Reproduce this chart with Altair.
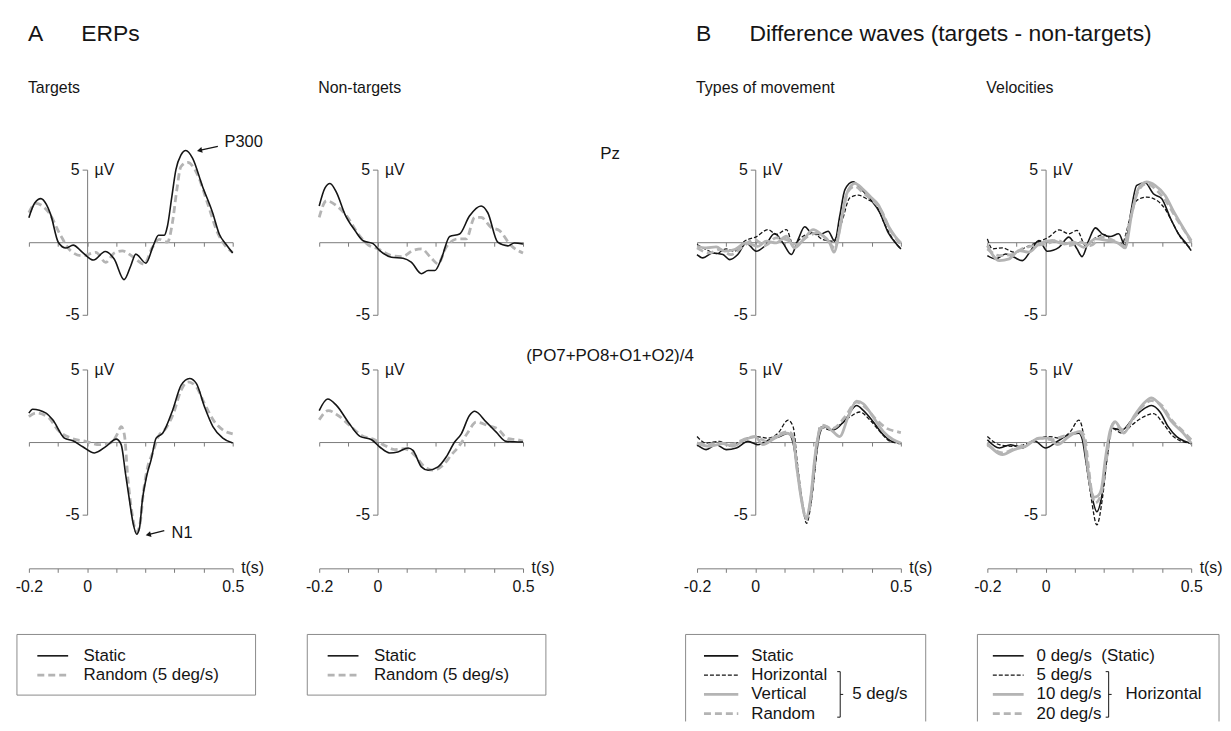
import altair as alt
import pandas as pd

FONT = "Liberation Sans"
BLACK = "#151515"
GRAY = "#b4b4b4"
AXC = "#7a7a7a"
TXT = "#151515"

# ------------------------------------------------------------------ data
# A. ERPs -- Pz
ERP_TGT_PZ_STATIC_T = [-0.2, -0.18, -0.159, -0.14, -0.125, -0.099, -0.073, -0.048, -0.016, 0.022, 0.062, 0.093, 0.127, 0.15, 0.167, 0.202, 0.227, 0.245, 0.265, 0.276, 0.29, 0.305, 0.322, 0.339, 0.362, 0.396, 0.431, 0.454, 0.477, 0.5]
ERP_TGT_PZ_STATIC_V = [1.69, 2.7, 3.0, 2.6, 1.9, 0.0, -0.4, -0.2, -0.7, -1.23, -0.64, -1.16, -2.58, -1.62, -0.82, -1.44, -0.25, 0.48, 0.48, 1.12, 3.0, 5.0, 6.0, 6.32, 5.8, 3.86, 2.03, 0.55, -0.14, -0.75]
ERP_TGT_PZ_RANDOM_T = [-0.2, -0.176, -0.131, -0.09, -0.056, -0.016, 0.03, 0.064, 0.093, 0.121, 0.156, 0.196, 0.224, 0.247, 0.276, 0.293, 0.308, 0.322, 0.345, 0.379, 0.413, 0.448, 0.477, 0.5]
ERP_TGT_PZ_RANDOM_V = [2.03, 2.67, 2.03, 0.43, -0.6, -0.94, -0.7, -1.39, -0.75, -0.6, -0.98, -1.51, -0.37, 0.2, 0.0, 1.35, 3.6, 5.2, 5.5, 4.66, 2.72, 0.66, -0.3, -0.7]
ERP_NT_PZ_STATIC_T = [-0.2, -0.18, -0.163, -0.14, -0.112, -0.077, -0.049, -0.015, 0.008, 0.048, 0.088, 0.116, 0.151, 0.174, 0.197, 0.219, 0.248, 0.282, 0.316, 0.356, 0.379, 0.413, 0.448, 0.47, 0.5]
ERP_NT_PZ_STATIC_V = [2.5, 3.75, 4.05, 3.4, 1.94, 0.8, 0.1, -0.1, -0.58, -1.03, -1.1, -1.37, -2.17, -1.95, -1.95, -1.16, 0.4, 0.56, 1.8, 2.5, 2.03, 0.0, -0.25, -0.05, -0.12]
ERP_NT_PZ_RANDOM_T = [-0.2, -0.175, -0.14, -0.106, -0.066, -0.032, 0.002, 0.048, 0.085, 0.122, 0.151, 0.185, 0.208, 0.236, 0.276, 0.305, 0.334, 0.356, 0.39, 0.419, 0.459, 0.5]
ERP_NT_PZ_RANDOM_V = [1.71, 2.85, 2.5, 1.82, 0.57, -0.18, -0.46, -0.92, -0.99, -0.57, -0.46, -1.1, -1.49, -0.34, 0.23, 0.23, 1.71, 1.71, 1.03, 0.8, -0.23, -0.75]

# A. ERPs -- (PO7+PO8+O1+O2)/4
ERP_TGT_OCC_STATIC_T = [-0.2, -0.187, -0.141, -0.118, -0.078, -0.049, -0.015, 0.025, 0.065, 0.1, 0.117, 0.132, 0.145, 0.158, 0.17, 0.18, 0.19, 0.205, 0.22, 0.237, 0.26, 0.294, 0.323, 0.352, 0.375, 0.403, 0.432, 0.466, 0.5]
ERP_TGT_OCC_STATIC_V = [1.99, 2.26, 1.99, 1.53, 0.27, 0.09, -0.32, -0.75, -0.3, 0.2, -0.18, -2.2, -3.95, -5.6, -6.35, -5.9, -3.95, -2.3, -1.21, 0.27, 0.62, 2.21, 3.92, 4.38, 4.04, 2.44, 1.07, 0.27, -0.07]
ERP_TGT_OCC_RANDOM_T = [-0.2, -0.175, -0.13, -0.101, -0.055, -0.003, 0.042, 0.082, 0.105, 0.117, 0.128, 0.14, 0.155, 0.17, 0.182, 0.193, 0.207, 0.225, 0.245, 0.271, 0.295, 0.323, 0.346, 0.375, 0.403, 0.437, 0.466, 0.5]
ERP_TGT_OCC_RANDOM_V = [1.75, 2.0, 1.64, 0.84, 0.27, 0.04, -0.18, -0.05, 0.6, 1.07, 0.5, -2.5, -5.0, -6.2, -5.6, -3.5, -1.8, -0.75, 0.4, 0.96, 1.9, 3.58, 4.15, 3.8, 2.65, 1.41, 0.84, 0.57]
ERP_NT_OCC_STATIC_T = [-0.2, -0.171, -0.14, -0.1, -0.06, -0.02, 0.008, 0.042, 0.07, 0.105, 0.122, 0.151, 0.174, 0.208, 0.236, 0.265, 0.288, 0.316, 0.334, 0.374, 0.408, 0.442, 0.47, 0.5]
ERP_NT_OCC_STATIC_V = [2.17, 2.97, 2.51, 1.37, 0.39, 0.16, -0.34, -0.75, -0.68, -0.41, -0.57, -1.71, -1.94, -1.71, -1.03, 0.0, 0.57, 1.83, 2.12, 1.37, 0.68, 0.05, 0.02, 0.0]
ERP_NT_OCC_RANDOM_T = [-0.2, -0.169, -0.135, -0.095, -0.055, -0.01, 0.025, 0.06, 0.093, 0.128, 0.162, 0.191, 0.225, 0.253, 0.282, 0.311, 0.339, 0.379, 0.413, 0.448, 0.48, 0.5]
ERP_NT_OCC_RANDOM_V = [1.53, 2.17, 1.83, 1.14, 0.46, 0.16, -0.23, -0.52, -0.46, -0.91, -1.71, -1.94, -1.6, -0.91, -0.23, 0.68, 1.37, 1.14, 0.91, 0.23, 0.16, 0.07]

# B. Difference waves -- types of movement, Pz
DW_TYPE_PZ_STATIC_T = [-0.2, -0.18, -0.146, -0.111, -0.088, -0.06, -0.031, 0.003, 0.032, 0.067, 0.095, 0.124, 0.147, 0.17, 0.193, 0.222, 0.25, 0.273, 0.29, 0.308, 0.336, 0.365, 0.394, 0.428, 0.457, 0.486, 0.5]
DW_TYPE_PZ_STATIC_V = [-0.85, -1.08, -0.74, -0.85, -1.2, -0.85, -0.05, -0.62, -0.28, 0.6, -0.05, -0.85, 0.18, 1.06, 0.64, 0.53, 0.76, 0.07, 1.79, 3.63, 4.16, 3.63, 2.99, 2.02, 0.64, -0.16, -0.46]
DW_TYPE_PZ_HOR_T = [-0.2, -0.169, -0.134, -0.1, -0.071, -0.037, 0.003, 0.044, 0.072, 0.107, 0.13, 0.164, 0.199, 0.233, 0.267, 0.296, 0.325, 0.354, 0.382, 0.417, 0.445, 0.474, 0.5]
DW_TYPE_PZ_HOR_V = [-0.16, -0.5, -0.78, -0.46, -0.62, 0.07, 0.37, 0.87, 0.53, 0.87, -0.16, 0.41, 0.6, 0.18, 0.07, 1.33, 3.06, 3.24, 2.99, 2.48, 1.22, 0.18, -0.46]
DW_TYPE_PZ_VER_T = [-0.2, -0.169, -0.134, -0.106, -0.071, -0.031, 0.009, 0.038, 0.072, 0.107, 0.135, 0.17, 0.199, 0.227, 0.256, 0.27, 0.29, 0.313, 0.342, 0.371, 0.399, 0.422, 0.451, 0.48, 0.5]
DW_TYPE_PZ_VER_V = [-0.28, -0.39, -0.32, -0.62, -0.5, -0.05, -0.28, 0.07, -0.05, 0.41, -0.39, 0.3, 0.87, 0.53, -0.05, -0.69, 0.87, 3.29, 4.05, 3.63, 3.06, 2.6, 1.33, 0.41, -0.05]
DW_TYPE_PZ_RND_T = [-0.2, -0.157, -0.123, -0.083, -0.042, -0.002, 0.032, 0.072, 0.107, 0.141, 0.181, 0.216, 0.25, 0.273, 0.296, 0.319, 0.342, 0.371, 0.405, 0.434, 0.463, 0.5]
DW_TYPE_PZ_RND_V = [-0.39, -0.74, -0.5, -0.85, -0.28, 0.18, -0.23, 0.3, 0.18, -0.16, 0.41, 0.64, 0.07, -0.39, 1.56, 3.52, 3.86, 3.4, 2.83, 2.14, 0.87, -0.16]

# B. Difference waves -- velocities, Pz
DW_VEL_PZ_0_T = [-0.2, -0.171, -0.137, -0.108, -0.08, -0.051, -0.023, 0.006, 0.046, 0.08, 0.108, 0.125, 0.148, 0.171, 0.194, 0.222, 0.251, 0.273, 0.29, 0.313, 0.342, 0.37, 0.399, 0.427, 0.456, 0.484, 0.5]
DW_VEL_PZ_0_V = [-0.92, -1.15, -0.81, -1.04, -1.27, -0.58, 0.12, -0.62, -0.35, 0.35, -0.46, -0.99, 0.12, 0.99, 0.58, 0.39, 0.58, -0.23, 1.73, 3.92, 4.1, 3.34, 3.0, 1.73, 0.58, -0.12, -0.58]
DW_VEL_PZ_5_T = [-0.2, -0.182, -0.148, -0.108, -0.068, -0.028, 0.011, 0.046, 0.08, 0.108, 0.137, 0.171, 0.2, 0.228, 0.262, 0.285, 0.313, 0.347, 0.382, 0.41, 0.438, 0.467, 0.5]
DW_VEL_PZ_5_V = [0.23, -0.46, -0.39, -0.69, -0.35, 0.0, 0.35, 0.85, 0.58, 0.81, -0.23, 0.3, 0.53, 0.12, -0.12, 1.27, 2.88, 3.11, 2.88, 2.3, 1.27, 0.23, -0.45]
DW_VEL_PZ_10_T = [-0.2, -0.159, -0.125, -0.091, -0.057, -0.023, 0.023, 0.063, 0.097, 0.131, 0.171, 0.211, 0.251, 0.273, 0.296, 0.319, 0.347, 0.376, 0.41, 0.444, 0.478, 0.5]
DW_VEL_PZ_10_V = [-0.23, -1.27, -1.15, -0.58, -0.69, -0.12, 0.12, -0.12, 0.0, -0.35, 0.23, 0.12, -0.07, -0.39, 1.96, 3.69, 4.15, 3.92, 3.23, 1.96, 0.81, 0.12]
DW_VEL_PZ_20_T = [-0.2, -0.159, -0.114, -0.08, -0.04, 0.0, 0.04, 0.08, 0.12, 0.154, 0.194, 0.233, 0.268, 0.29, 0.319, 0.347, 0.382, 0.416, 0.45, 0.484, 0.5]
DW_VEL_PZ_20_V = [-0.46, -0.92, -0.85, -0.46, -0.23, -0.12, 0.12, -0.23, 0.0, -0.23, 0.35, 0.12, -0.23, 1.5, 3.57, 4.03, 3.57, 2.76, 1.61, 0.58, 0.0]

# B. Difference waves -- types of movement, occipital
DW_TYPE_OCC_STATIC_T = [-0.2, -0.169, -0.134, -0.1, -0.065, -0.025, 0.009, 0.049, 0.084, 0.113, 0.13, 0.145, 0.158, 0.175, 0.193, 0.207, 0.222, 0.235, 0.267, 0.308, 0.348, 0.371, 0.405, 0.44, 0.468, 0.5]
DW_TYPE_OCC_STATIC_V = [-0.18, -0.52, -0.18, -0.52, -0.41, 0.05, -0.18, 0.16, 0.38, 0.61, -0.07, -2.0, -3.9, -5.3, -3.9, -1.3, 0.6, 1.06, 0.83, 1.51, 2.52, 2.18, 1.4, 0.5, 0.05, -0.07]
DW_TYPE_OCC_HOR_T = [-0.2, -0.169, -0.123, -0.088, -0.042, 0.003, 0.044, 0.078, 0.113, 0.13, 0.145, 0.16, 0.176, 0.193, 0.207, 0.222, 0.256, 0.29, 0.325, 0.359, 0.394, 0.428, 0.463, 0.5]
DW_TYPE_OCC_HOR_V = [0.38, -0.07, 0.05, -0.29, 0.16, 0.38, 0.27, 0.61, 1.51, 1.06, -1.5, -3.9, -5.6, -4.0, -1.5, 1.06, 0.83, 1.17, 1.73, 2.07, 1.51, 0.72, 0.05, -0.11]
DW_TYPE_OCC_VER_T = [-0.2, -0.157, -0.111, -0.077, -0.037, 0.0, 0.026, 0.067, 0.107, 0.13, 0.143, 0.158, 0.174, 0.19, 0.205, 0.222, 0.239, 0.267, 0.29, 0.319, 0.348, 0.371, 0.405, 0.44, 0.474, 0.5]
DW_TYPE_OCC_VER_V = [-0.07, -0.29, -0.11, -0.29, 0.16, 0.38, -0.18, 0.27, 0.61, 0.27, -1.8, -3.9, -5.2, -3.9, -1.0, 0.83, 1.1, 0.72, 0.38, 1.73, 2.82, 2.64, 1.73, 0.72, 0.16, -0.07]
DW_TYPE_OCC_RND_T = [-0.2, -0.163, -0.123, -0.083, -0.042, 0.0, 0.038, 0.078, 0.113, 0.13, 0.144, 0.159, 0.175, 0.191, 0.206, 0.227, 0.267, 0.308, 0.348, 0.377, 0.417, 0.451, 0.486, 0.5]
DW_TYPE_OCC_RND_V = [-0.07, -0.18, -0.07, -0.18, 0.16, 0.38, 0.05, 0.5, 0.72, 0.38, -1.8, -3.9, -5.3, -3.9, -1.0, 1.17, 0.95, 1.73, 2.75, 2.41, 1.51, 0.95, 0.72, 0.65]

# B. Difference waves -- velocities, occipital
DW_VEL_OCC_0_T = [-0.2, -0.159, -0.12, -0.08, -0.04, 0.0, 0.04, 0.08, 0.114, 0.125, 0.14, 0.158, 0.176, 0.194, 0.21, 0.228, 0.262, 0.296, 0.33, 0.364, 0.393, 0.421, 0.45, 0.478, 0.5]
DW_VEL_OCC_0_V = [0.16, -0.41, -0.18, -0.41, 0.11, -0.41, 0.05, 0.5, 0.61, 0.27, -1.5, -3.6, -4.8, -3.6, -1.2, 0.95, 0.83, 1.51, 2.18, 2.52, 2.07, 1.06, 0.38, 0.05, -0.11]
DW_VEL_OCC_5_T = [-0.2, -0.159, -0.114, -0.074, -0.034, 0.011, 0.051, 0.085, 0.114, 0.125, 0.14, 0.157, 0.176, 0.195, 0.21, 0.228, 0.262, 0.296, 0.336, 0.37, 0.404, 0.433, 0.467, 0.5]
DW_VEL_OCC_5_V = [0.38, -0.18, -0.29, -0.18, 0.16, 0.38, 0.27, 0.72, 1.51, 1.06, -1.5, -3.9, -5.7, -3.9, -1.3, 0.95, 0.61, 1.17, 1.73, 1.96, 1.28, 0.5, 0.05, -0.07]
DW_VEL_OCC_10_T = [-0.2, -0.148, -0.108, -0.068, -0.023, 0.011, 0.04, 0.08, 0.114, 0.131, 0.143, 0.155, 0.168, 0.18, 0.192, 0.205, 0.222, 0.239, 0.268, 0.302, 0.336, 0.364, 0.399, 0.433, 0.473, 0.5]
DW_VEL_OCC_10_V = [-0.07, -0.86, -0.52, -0.29, 0.27, 0.27, -0.18, 0.38, 0.72, 0.27, -1.5, -3.2, -3.8, -3.7, -3.2, -1.2, 0.8, 1.4, 0.61, 1.73, 2.64, 3.04, 2.41, 1.4, 0.61, -0.07]
DW_VEL_OCC_20_T = [-0.2, -0.148, -0.103, -0.057, -0.017, 0.023, 0.057, 0.097, 0.12, 0.134, 0.146, 0.158, 0.17, 0.182, 0.194, 0.207, 0.22, 0.233, 0.268, 0.302, 0.336, 0.364, 0.399, 0.433, 0.473, 0.5]
DW_VEL_OCC_20_V = [-0.18, -0.74, -0.41, -0.07, 0.27, 0.16, 0.38, 0.61, 0.72, 0.38, -1.5, -3.4, -4.2, -4.0, -3.3, -1.5, 0.3, 1.28, 0.83, 1.62, 2.52, 2.86, 2.52, 1.51, 0.72, 0.16]

# axes / labels
T_DOMAIN = [-0.2, 0.5]
T_TICKS = [-0.2, -0.1, 0.0, 0.1, 0.2, 0.3, 0.4, 0.5]
T_LABEL_VALUES = [-0.2, 0.0, 0.5]
T_LABEL_TEXT = ["-0.2", "0", "0.5"]
V_DOMAIN = [-5, 5]
V_TICKS = [-5, 5]
V_LABEL_TEXT = ["-5", "5"]

# annotations (time, µV)
P300_TEXT, P300_AT, P300_TAIL, P300_TIP = "P300", (0.472, 6.9), (0.449, 6.6), (0.386, 6.32)
N1_TEXT, N1_AT, N1_TAIL, N1_TIP = "N1", (0.29, -6.3), (0.265, -6.1), (0.21, -6.38)

# texts
GAP = "\u00a0" * 6
BIG_A = "A" + GAP + "ERPs"
BIG_B = "B" + GAP + "Difference waves (targets - non-targets)"
COL_TITLES = ["Targets", "Non-targets", "Types of movement", "Velocities"]
ROW_TITLES = ["Pz", "(PO7+PO8+O1+O2)/4"]
LEG_ERP = ["Static", "Random (5 deg/s)"]
LEG_TYPES = ["Static", "Horizontal", "Vertical", "Random"]
LEG_VEL = ["0 deg/s\u00a0\u00a0(Static)", "5 deg/s", "10 deg/s", "20 deg/s"]
GROUP_TYPES = "5 deg/s"
GROUP_VEL = "Horizontal"

# ------------------------------------------------------------------ styles
ST_BLACK = dict(color=BLACK, strokeWidth=1.6)
ST_BLACK_DASH = dict(color=BLACK, strokeWidth=1.3, strokeDash=[4, 2])
ST_GRAY = dict(color=GRAY, strokeWidth=2.8)
ST_GRAY_DASH = dict(color=GRAY, strokeWidth=2.8, strokeDash=[7, 4])

W, H = 205, 146
X0_OFF = W * (0 - T_DOMAIN[0]) / (T_DOMAIN[1] - T_DOMAIN[0])
TICK_FS = 16
LEG_FS = 17
SUB_FS = 16
BIG_FS = 23
ROW_FS = 17


def label_expr(values, labels):
    expr = "''"
    for val, lab in zip(values, labels):
        expr = f"abs(datum.value - ({val})) < 1e-6 ? '{lab}' : ({expr})"
    return expr


def x_enc(field="t"):
    return alt.X(f"{field}:Q",
                 scale=alt.Scale(domain=T_DOMAIN, nice=False, zero=False),
                 axis=alt.Axis(orient="bottom", offset=-H / 2, values=T_TICKS, labels=False,
                               title=None, tickSize=4, domainColor=AXC, tickColor=AXC,
                               domainWidth=1, tickWidth=1, grid=False))


def y_enc(field="v"):
    return alt.Y(f"{field}:Q",
                 scale=alt.Scale(domain=V_DOMAIN, nice=False, zero=False),
                 axis=alt.Axis(orient="left", offset=-X0_OFF, values=V_TICKS,
                               labelExpr=label_expr(V_TICKS, V_LABEL_TEXT),
                               labelFontSize=TICK_FS, labelPadding=3, tickSize=5,
                               domainColor=AXC, tickColor=AXC, grid=False,
                               title="µV", titleAngle=0, titleX=7, titleY=0,
                               titleAlign="left", titleBaseline="middle",
                               titleFontSize=TICK_FS, titleFontWeight="normal"))


def series(t, v):
    return pd.DataFrame({"t": t, "v": v})


def line_layer(t, v, style):
    return alt.Chart(series(t, v)).mark_line(interpolate="monotone", **style).encode(
        x=x_enc(), y=y_enc())


def annotation(text, at, tail, tip, angle):
    lay = []
    seg = pd.DataFrame({"t": [tail[0]], "v": [tail[1]], "t2": [tip[0]], "v2": [tip[1]]})
    lay.append(alt.Chart(seg).mark_rule(color=BLACK, strokeWidth=1.3).encode(
        x=x_enc(), y=y_enc(), x2="t2:Q", y2="v2:Q"))
    lay.append(alt.Chart(series([tip[0]], [tip[1]])).mark_point(
        shape="triangle-left", filled=True, size=36, angle=angle, color=BLACK, opacity=1).encode(
        x=x_enc(), y=y_enc()))
    lab = pd.DataFrame({"t": [at[0]], "v": [at[1]], "label": [text]})
    lay.append(alt.Chart(lab).mark_text(align="left", baseline="middle", fontSize=16.5,
                                        font=FONT, color=TXT).encode(
        x=x_enc(), y=y_enc(), text="label:N"))
    return lay


def panel(layers, title=None):
    ch = alt.layer(*layers).properties(width=W, height=H)
    if title is not None:
        ch = ch.properties(title=title)
    return ch


def col_title(big, sub, offset):
    return alt.TitleParams(text=big, subtitle=sub, anchor="start", frame="group", orient="top",
                           fontSize=BIG_FS, fontWeight="normal", font=FONT, color=TXT,
                           subtitleFontSize=SUB_FS, subtitleFont=FONT, subtitleColor=TXT,
                           subtitlePadding=34, offset=offset, dx=-1)


DUMMY = pd.DataFrame({"k": [0]})


def spacer(height, title=None, offset=0):
    ch = alt.Chart(DUMMY).mark_point(opacity=0).encode(
        x=alt.value(0), y=alt.value(0)).properties(width=1, height=height)
    if title is not None:
        ch = ch.properties(title=alt.TitleParams(text=title, anchor="middle", frame="group",
                                                 fontSize=ROW_FS, fontWeight="normal", font=FONT,
                                                 color=TXT, offset=offset))
    return ch


def t_axis():
    return alt.Chart(pd.DataFrame({"t": T_DOMAIN})).mark_point(opacity=0).encode(
        x=alt.X("t:Q", scale=alt.Scale(domain=T_DOMAIN, nice=False, zero=False),
                axis=alt.Axis(orient="bottom", offset=-11, values=T_TICKS,
                              labelExpr=label_expr(T_LABEL_VALUES, T_LABEL_TEXT),
                              labelFlush=False, labelOverlap=False, labelFontSize=TICK_FS,
                              labelPadding=6, tickSize=4, domainColor=AXC, tickColor=AXC,
                              grid=False, title="t(s)", titleX=W + 8, titleY=-1,
                              titleAlign="left", titleBaseline="middle",
                              titleFontSize=TICK_FS, titleFontWeight="normal")),
        y=alt.value(0)).properties(width=W, height=10)


LEG_FIRST = 22.0
LEG_STEP = 19.4


def legend(labels, styles, box, closed, sample_x, label_x, height, group=None):
    d0 = -LEG_FIRST / LEG_STEP
    d1 = d0 + height / LEG_STEP
    Y = alt.Y("row:Q", scale=alt.Scale(domain=[d0, d1], reverse=True, nice=False, zero=False),
              axis=None)
    lay = []
    bl, br = box
    edge = dict(color="#8a8a8a", strokeWidth=1)
    bottom = height - 0.5 if closed else height
    lay.append(alt.Chart(DUMMY).mark_rule(**edge).encode(
        x=alt.value(bl), x2=alt.value(br), y=alt.value(0.5)))
    lay.append(alt.Chart(DUMMY).mark_rule(**edge).encode(
        x=alt.value(bl), y=alt.value(0.5), y2=alt.value(bottom)))
    lay.append(alt.Chart(DUMMY).mark_rule(**edge).encode(
        x=alt.value(br), y=alt.value(0.5), y2=alt.value(bottom)))
    if closed:
        lay.append(alt.Chart(DUMMY).mark_rule(**edge).encode(
            x=alt.value(bl), x2=alt.value(br), y=alt.value(bottom)))
    for i, st in enumerate(styles):
        lay.append(alt.Chart(pd.DataFrame({"row": [i]})).mark_rule(**st).encode(
            x=alt.value(sample_x[0]), x2=alt.value(sample_x[1]), y=Y))
    lay.append(alt.Chart(pd.DataFrame({"row": list(range(len(labels))), "label": labels}))
               .mark_text(align="left", baseline="middle", fontSize=LEG_FS, font=FONT, color=TXT)
               .encode(x=alt.value(label_x), y=Y, text="label:N"))
    if group is not None:
        gtext, bx, gap = group
        first, last = 1, len(labels) - 1
        top_r, bot_r, mid_r = first - 0.18, last + 0.18, (first + last) / 2
        thin = dict(color=BLACK, strokeWidth=1)
        lay.append(alt.Chart(pd.DataFrame({"row": [top_r], "row2": [bot_r]})).mark_rule(**thin)
                   .encode(x=alt.value(bx), y=Y, y2="row2:Q"))
        lay.append(alt.Chart(pd.DataFrame({"row": [top_r, bot_r]})).mark_rule(**thin)
                   .encode(x=alt.value(bx - 3), x2=alt.value(bx), y=Y))
        lay.append(alt.Chart(pd.DataFrame({"row": [mid_r]})).mark_rule(**thin)
                   .encode(x=alt.value(bx), x2=alt.value(bx + 3), y=Y))
        lay.append(alt.Chart(pd.DataFrame({"row": [mid_r], "label": [gtext]}))
                   .mark_text(align="left", baseline="middle", fontSize=LEG_FS, font=FONT, color=TXT)
                   .encode(x=alt.value(bx + gap), y=Y, text="label:N"))
    return alt.layer(*lay).properties(width=W, height=height)


# ------------------------------------------------------------------ panels
p1 = panel([line_layer(ERP_TGT_PZ_RANDOM_T, ERP_TGT_PZ_RANDOM_V, ST_GRAY_DASH),
            line_layer(ERP_TGT_PZ_STATIC_T, ERP_TGT_PZ_STATIC_V, ST_BLACK)]
           + annotation(P300_TEXT, P300_AT, P300_TAIL, P300_TIP, 347.5),
           col_title(BIG_A, COL_TITLES[0], 38.3))
p2 = panel([line_layer(ERP_NT_PZ_RANDOM_T, ERP_NT_PZ_RANDOM_V, ST_GRAY_DASH),
            line_layer(ERP_NT_PZ_STATIC_T, ERP_NT_PZ_STATIC_V, ST_BLACK)],
           col_title("\u00a0", COL_TITLES[1], 66.3))
p3 = panel([line_layer(DW_TYPE_PZ_STATIC_T, DW_TYPE_PZ_STATIC_V, ST_BLACK),
            line_layer(DW_TYPE_PZ_HOR_T, DW_TYPE_PZ_HOR_V, ST_BLACK_DASH),
            line_layer(DW_TYPE_PZ_VER_T, DW_TYPE_PZ_VER_V, ST_GRAY),
            line_layer(DW_TYPE_PZ_RND_T, DW_TYPE_PZ_RND_V, ST_GRAY_DASH)],
           col_title(BIG_B, COL_TITLES[2], 66.3))
p4 = panel([line_layer(DW_VEL_PZ_0_T, DW_VEL_PZ_0_V, ST_BLACK),
            line_layer(DW_VEL_PZ_5_T, DW_VEL_PZ_5_V, ST_BLACK_DASH),
            line_layer(DW_VEL_PZ_10_T, DW_VEL_PZ_10_V, ST_GRAY),
            line_layer(DW_VEL_PZ_20_T, DW_VEL_PZ_20_V, ST_GRAY_DASH)],
           col_title("\u00a0", COL_TITLES[3], 66.3))

p5 = panel([line_layer(ERP_TGT_OCC_RANDOM_T, ERP_TGT_OCC_RANDOM_V, ST_GRAY_DASH),
            line_layer(ERP_TGT_OCC_STATIC_T, ERP_TGT_OCC_STATIC_V, ST_BLACK)]
           + annotation(N1_TEXT, N1_AT, N1_TAIL, N1_TIP, 346))
p6 = panel([line_layer(ERP_NT_OCC_RANDOM_T, ERP_NT_OCC_RANDOM_V, ST_GRAY_DASH),
            line_layer(ERP_NT_OCC_STATIC_T, ERP_NT_OCC_STATIC_V, ST_BLACK)])
p7 = panel([line_layer(DW_TYPE_OCC_STATIC_T, DW_TYPE_OCC_STATIC_V, ST_BLACK),
            line_layer(DW_TYPE_OCC_HOR_T, DW_TYPE_OCC_HOR_V, ST_BLACK_DASH),
            line_layer(DW_TYPE_OCC_VER_T, DW_TYPE_OCC_VER_V, ST_GRAY),
            line_layer(DW_TYPE_OCC_RND_T, DW_TYPE_OCC_RND_V, ST_GRAY_DASH)])
p8 = panel([line_layer(DW_VEL_OCC_0_T, DW_VEL_OCC_0_V, ST_BLACK),
            line_layer(DW_VEL_OCC_5_T, DW_VEL_OCC_5_V, ST_BLACK_DASH),
            line_layer(DW_VEL_OCC_10_T, DW_VEL_OCC_10_V, ST_GRAY),
            line_layer(DW_VEL_OCC_20_T, DW_VEL_OCC_20_V, ST_GRAY_DASH)])

four = [ST_BLACK, ST_BLACK_DASH, ST_GRAY, ST_GRAY_DASH]
l1 = legend(LEG_ERP, [ST_BLACK, ST_GRAY_DASH], (-12, 228), True, (8.5, 39.5), 55, 62)
l2 = legend(LEG_ERP, [ST_BLACK, ST_GRAY_DASH], (-12, 228), True, (8.5, 39.5), 55, 62)
l3 = legend(LEG_TYPES, four, (-11.5, 230), False, (7, 41.5), 54.5, 88, (GROUP_TYPES, 144, 12))
l4 = legend(LEG_VEL, four, (-10, 233), False, (5.5, 36.5), 49.5, 88, (GROUP_VEL, 122, 17))

cells = [
    p1, p2, spacer(H, ROW_TITLES[0], 3.5), p3, p4,
    p5, p6, spacer(H, ROW_TITLES[1], 2), p7, p8,
    t_axis(), t_axis(), spacer(10), t_axis(), t_axis(),
    l1, l2, spacer(62), l3, l4,
]

chart = alt.concat(*cells, columns=5, spacing=alt.RowColnumber(row=55, column=87),
                   bounds="flush", align="each").properties(
    padding={"left": 7, "top": 12.5, "right": 0, "bottom": 0}
).configure_view(strokeWidth=0).configure_axis(
    grid=False, labelFont=FONT, titleFont=FONT, labelColor=TXT, titleColor=TXT
).configure_title(font=FONT, color=TXT, subtitleFont=FONT, subtitleColor=TXT)

chart.save("out.html", embed_options={"renderer": "svg", "actions": False})
